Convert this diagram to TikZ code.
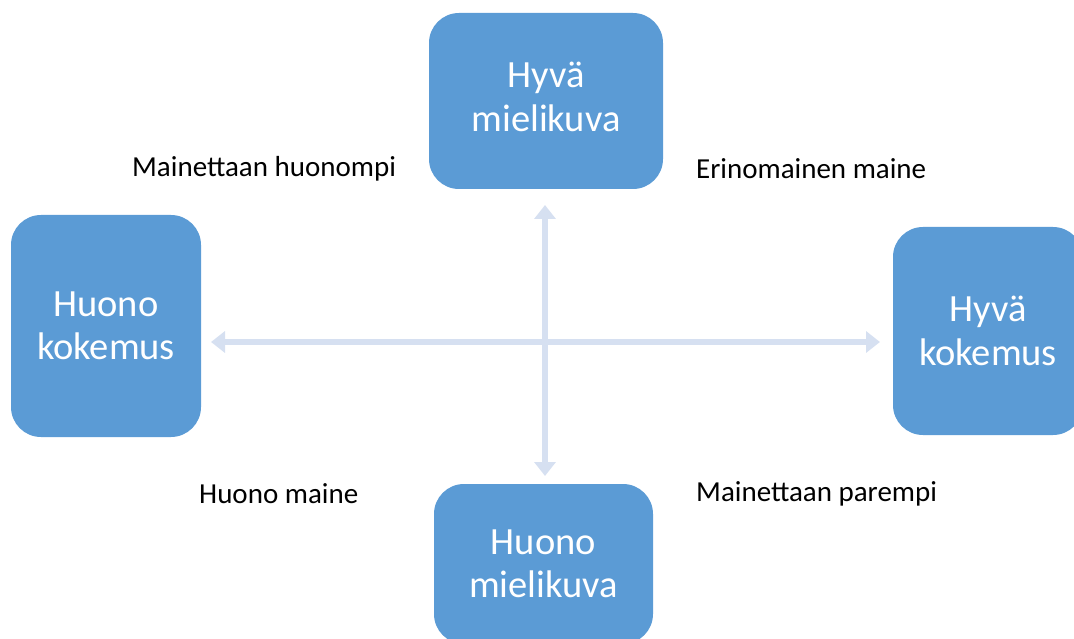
\documentclass[tikz,border=0pt]{standalone}
\usepackage{fontspec}
\setmainfont{Carlito}
\usetikzlibrary{arrows.meta}
\definecolor{boxblue}{HTML}{5B9BD5}
\definecolor{arrowblue}{HTML}{D6E0F1}
\tikzset{
  box/.style={fill=boxblue, draw=none, rounded corners=30pt, text=white,
    align=center, inner sep=0pt, font=\fontsize{38.5}{43.5}\selectfont},
  lbl/.style={font=\fontsize{29}{32}\selectfont, text=black, inner sep=0pt},
  axis/.style={draw=arrowblue, line width=6pt,
    {Triangle[width=21pt,length=14pt]}-{Triangle[width=21pt,length=14pt]}}
}
\begin{document}
\begin{tikzpicture}[x=1pt,y=-1pt]
\useasboundingbox (0,0) rectangle (1074,639);
\clip (0,0) rectangle (1074,639);
\node[box, minimum width=234pt, minimum height=176pt] (tb) at (546,101) {};
\node[box, fill=none] (tbt) at (546,97) {Hyvä\\mielikuva};
\node[box, minimum width=190pt, minimum height=222pt] (lb) at (106,326) {Huono\\kokemus};
\node[box, minimum width=190pt, minimum height=208pt] (rb) at (988,331) {Hyvä\\kokemus};
\node[box, minimum width=219pt, minimum height=160pt] (bb) at (543.5,564) {Huono\\mielikuva};
\coordinate (vt) at (545,205);
\coordinate (vb) at (545,476);
\coordinate (hl) at (211,342);
\coordinate (hr) at (880,342);
\draw[axis] (hl) -- (hr);
\draw[axis] (vt) -- (vb);
\node[lbl, anchor=west] (l1) at (132,169) {Mainettaan huonompi};
\node[lbl, anchor=west] (l2) at (696,169) {Erinomainen maine};
\node[lbl, anchor=west] (l3) at (199,494) {Huono maine};
\node[lbl, anchor=west] (l4) at (696,494) {Mainettaan parempi};
\end{tikzpicture}
\end{document}
